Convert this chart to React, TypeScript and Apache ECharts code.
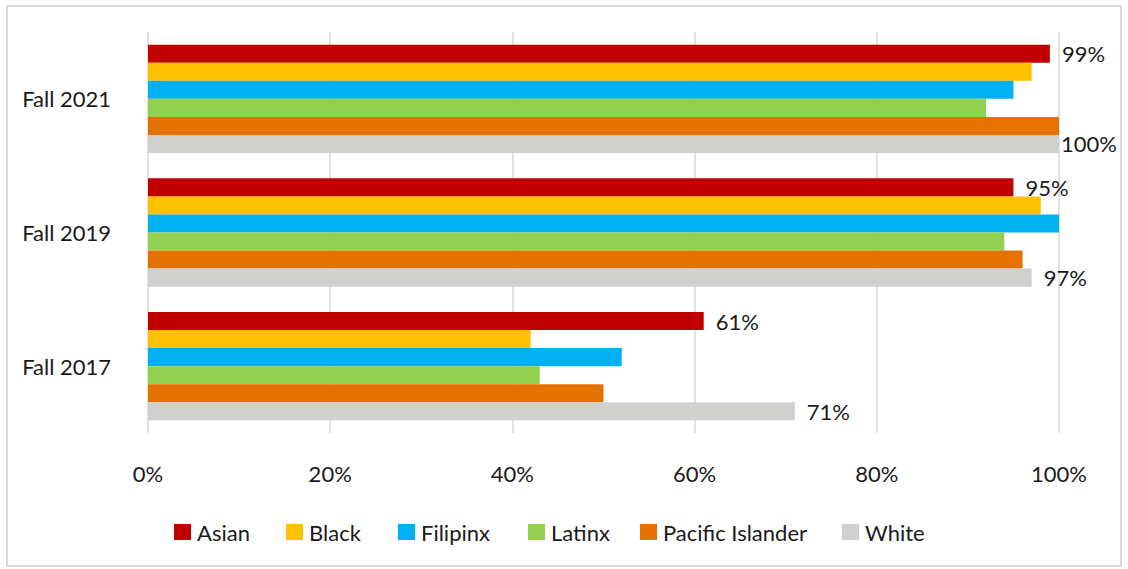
import React, { useEffect, useRef } from "react";
import * as echarts from "echarts";

const categories = ["Fall 2017", "Fall 2019", "Fall 2021"];
const seriesNames = ["Asian", "Black", "Filipinx", "Latinx", "Pacific Islander", "White"];
const asian = [61, 95, 99];
const black = [42, 98, 97];
const filipinx = [52, 100, 95];
const latinx = [43, 94, 92];
const pacificIslander = [50, 96, 100];
const white = [71, 97, 100];
const colors = ["#C00000", "#FFC000", "#00B0F0", "#92D050", "#E57200", "#D0D0CE"];
const xTicks = [0, 20, 40, 60, 80, 100];
const legendLefts = [174, 286, 398, 528, 640, 842];

const FONT = "Lato, 'Noto Sans', sans-serif";
const FS = 22;

export default function App() {
  const ref = useRef<HTMLDivElement>(null);
  useEffect(() => {
    document.body.style.margin = "0";
    const chart = echarts.init(ref.current!, undefined, { renderer: "svg" });
    const values = [asian, black, filipinx, latinx, pacificIslander, white];
    const labelled = new Set(["Asian", "White"]);
    chart.setOption({
      animation: false,
      textStyle: { fontFamily: FONT },
      legend: seriesNames.map((name, i) => ({
        data: [name],
        left: legendLefts[i],
        top: 521,
        itemWidth: 17,
        itemHeight: 16,
        itemGap: 0,
        padding: 0,
        icon: "rect",
        textStyle: { fontSize: FS, color: "#1a1a1a", fontFamily: FONT, padding: [0, 0, 0, 1] },
      })),
      grid: { left: 148, right: 1128 - 1059, top: 32, bottom: 569 - 433 },
      xAxis: {
        type: "value",
        min: xTicks[0],
        max: xTicks[xTicks.length - 1],
        interval: 20,
        axisLine: { show: false },
        axisTick: { show: false },
        axisLabel: { formatter: "{value}%", fontSize: FS, color: "#1a1a1a", margin: 29, fontFamily: FONT },
        splitLine: { show: true, lineStyle: { color: "#D9D9D9", width: 1.5 } },
      },
      yAxis: {
        type: "category",
        data: categories,
        axisLine: { show: false },
        axisTick: { show: false },
        axisLabel: { fontSize: FS, color: "#1a1a1a", margin: 37, fontFamily: FONT },
      },
      series: seriesNames.map((name, i) => ({
        name,
        type: "bar",
        data: values[i].map((v) => ({
          value: v,
          label: { distance: v >= 100 ? 2 : 12 },
        })),
        barGap: "0%",
        barCategoryGap: "19%",
        itemStyle: { color: colors[i] },
        label: {
          show: labelled.has(name),
          position: "right",
          formatter: "{c}%",
          fontSize: FS,
          color: "#1a1a1a",
          fontFamily: FONT,
        },
      })),
    });
    return () => chart.dispose();
  }, []);
  return (
    <div style={{ position: "relative", width: 1128, height: 569, background: "#fff" }}>
      <div
        style={{
          position: "absolute",
          left: 6,
          top: 5,
          width: 1116,
          height: 562,
          border: "2px solid #D9D9D9",
          boxSizing: "border-box",
        }}
      />
      <div ref={ref} style={{ position: "absolute", left: 0, top: 0, width: 1128, height: 569 }} />
    </div>
  );
}
